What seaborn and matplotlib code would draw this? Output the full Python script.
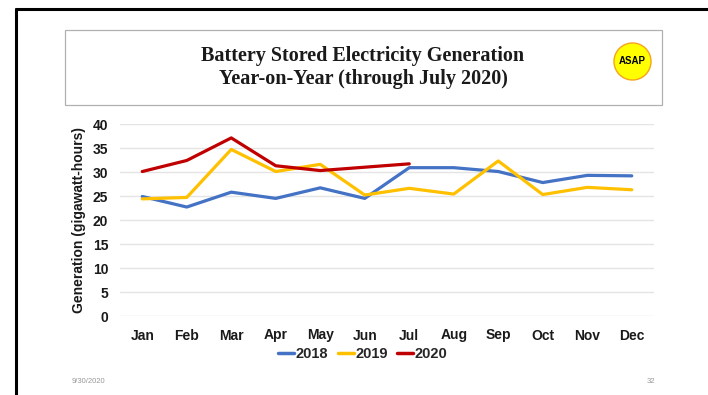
import matplotlib
matplotlib.use("Agg")
import matplotlib.pyplot as plt
from matplotlib.patches import Rectangle, Circle
from matplotlib.lines import Line2D
import seaborn as sns
import pandas as pd

months = ["Jan", "Feb", "Mar", "Apr", "May", "Jun", "Jul", "Aug", "Sep", "Oct", "Nov", "Dec"]
gen_2018 = [24.9, 22.7, 25.8, 24.5, 26.7, 24.5, 30.9, 30.9, 30.1, 27.8, 29.3, 29.2]
gen_2019 = [24.4, 24.7, 34.7, 30.1, 31.6, 25.2, 26.6, 25.4, 32.3, 25.3, 26.8, 26.3]
gen_2020 = [30.1, 32.4, 37.1, 31.3, 30.3, 31.0, 31.7]
years = ["2018", "2019", "2020"]
colors = ["#4472C4", "#FFC000", "#C00000"]
yticks = [0, 5, 10, 15, 20, 25, 30, 35, 40]

rows = []
for yr, vals in zip(years, [gen_2018, gen_2019, gen_2020]):
    for m, v in zip(months, vals):
        rows.append({"Month": m, "Year": yr, "Value": v})
df = pd.DataFrame(rows)
df["x"] = df["Month"].map({m: i for i, m in enumerate(months)})

sns.set_theme(style="white")
plt.rcParams["font.family"] = ["Liberation Sans", "DejaVu Sans"]

W, H = 708, 395
fig = plt.figure(figsize=(W / 100, H / 100), dpi=100)
fig.patch.set_facecolor("white")

def fx(px):
    return px / W

def fy(py):
    return 1 - py / H

# slide border (top and left)
fig.add_artist(Line2D([fx(15.5), 1.0], [fy(9), fy(9)], color="black", lw=2.2, transform=fig.transFigure))
fig.add_artist(Line2D([fx(15.5), fx(15.5)], [fy(9), 0], color="black", lw=2.2, transform=fig.transFigure))

# title box
fig.add_artist(Rectangle((fx(65), fy(105)), fx(662) - fx(65), fy(30) - fy(105),
                         transform=fig.transFigure, fill=False, edgecolor="#b0b0b0", lw=0.9))
fig.text(fx(363), fy(56), "Battery Stored Electricity Generation", ha="center", va="center",
         fontsize=14.5, fontweight="bold", family=["Liberation Serif", "DejaVu Serif"], color="#1a1a1a")
fig.text(fx(363), fy(79), "Year-on-Year (through July 2020)", ha="center", va="center",
         fontsize=14.5, fontweight="bold", family=["Liberation Serif", "DejaVu Serif"], color="#1a1a1a")

# ASAP logo
logo_ax = fig.add_axes([fx(613), fy(81), fx(652) - fx(613), fy(42) - fy(81)])
logo_ax.set_xlim(-1, 1)
logo_ax.set_ylim(-1, 1)
logo_ax.set_aspect("equal")
logo_ax.axis("off")
logo_ax.add_patch(Circle((0, 0), 0.95, facecolor="#FFFF00", edgecolor="#F4A41C", lw=1.0))
logo_ax.text(0, 0, "ASAP", ha="center", va="center", fontsize=7, fontweight="bold", color="black")

# main axes
ax = fig.add_axes([fx(120), fy(316), fx(654) - fx(120), fy(124) - fy(316)])
sns.lineplot(data=df, x="x", y="Value", hue="Year", palette=colors, hue_order=years,
             linewidth=2.3, ax=ax, legend=False, sort=False)
ax.set_xlim(-0.5, 11.5)
ax.set_ylim(0, 40)
ax.set_xticks(range(len(months)))
ax.set_xticklabels(months)
ax.set_yticks(yticks)
ax.set_yticklabels([str(t) for t in yticks])
ax.grid(axis="y", color="#e4e4e4", lw=1.0)
ax.grid(axis="x", visible=False)
ax.set_axisbelow(True)
for s in ax.spines.values():
    s.set_visible(False)
ax.tick_params(axis="both", length=0, labelsize=10, colors="#1a1a1a")
ax.tick_params(axis="x", pad=9)
ax.tick_params(axis="y", pad=8.5)
for lab in ax.get_xticklabels() + ax.get_yticklabels():
    lab.set_fontweight("bold")
ax.set_xlabel("")
ax.set_ylabel("Generation (gigawatt-hours)", fontsize=10, fontweight="bold", color="#1a1a1a", labelpad=4.5)

handles = [Line2D([0], [0], color=c, lw=2.5) for c in colors]
leg = fig.legend(handles, years, loc="center", bbox_to_anchor=(fx(363), fy(354)), ncol=3,
                 frameon=False, handlelength=1.1, handletextpad=0.1, columnspacing=0.65,
                 prop={"weight": "bold", "size": 10.5})

fig.text(fx(88), fy(381.5), "9/30/2020", ha="center", va="center", fontsize=5.5, color="#999999")
fig.text(fx(651), fy(381.5), "32", ha="center", va="center", fontsize=5.5, color="#999999")

fig.savefig("out.png", dpi=100, facecolor="white")
